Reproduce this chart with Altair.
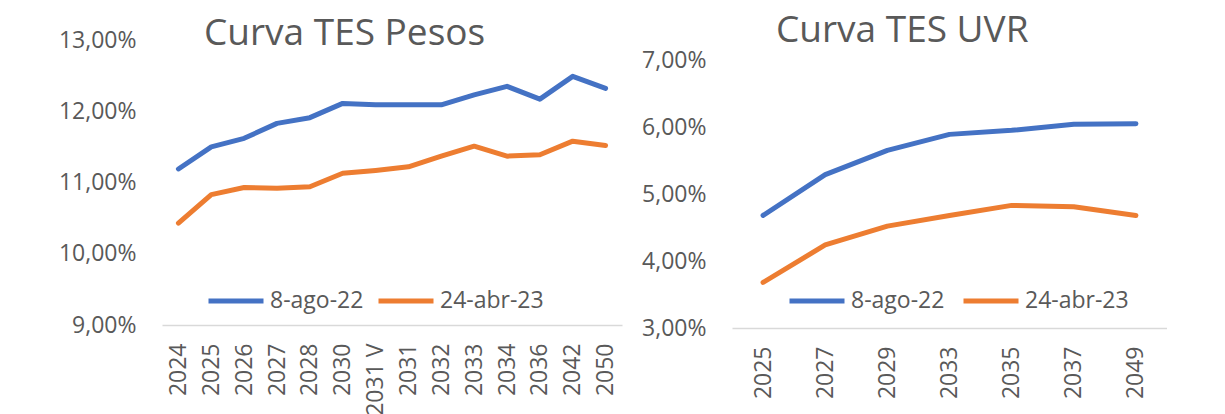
import altair as alt
import pandas as pd

# ---- data ----
series = ["8-ago-22", "24-abr-23"]
colors = ["#4472C4", "#ED7D31"]

pesos_cats = ["2024", "2025", "2026", "2027", "2028", "2030", "2031 V",
              "2031", "2032", "2033", "2034", "2036", "2042", "2050"]
pesos_ago22 = [11.19, 11.50, 11.62, 11.83, 11.91, 12.11, 12.09,
               12.09, 12.09, 12.23, 12.35, 12.17, 12.49, 12.32]
pesos_abr23 = [10.43, 10.83, 10.93, 10.92, 10.94, 11.13, 11.17,
               11.22, 11.37, 11.51, 11.37, 11.39, 11.58, 11.52]
pesos_ticks = [9, 10, 11, 12, 13]

uvr_cats = ["2025", "2027", "2029", "2033", "2035", "2037", "2049"]
uvr_ago22 = [4.68, 5.29, 5.65, 5.89, 5.95, 6.04, 6.05]
uvr_abr23 = [3.68, 4.24, 4.52, 4.68, 4.83, 4.81, 4.68]
uvr_ticks = [3, 4, 5, 6, 7]

FONT = "Open Sans"
GREY = "#595959"


def panel(cats, a, b, title, ymin, ytop, ticks, width, height,
          tx, ty, lx, ly, colpad):
    df = pd.DataFrame({
        "Vencimiento": cats * 2,
        "Serie": [series[0]] * len(cats) + [series[1]] * len(cats),
        "Tasa": a + b,
    })
    x = alt.X("Vencimiento:N", sort=cats,
              scale=alt.Scale(type="point", padding=0.5),
              axis=alt.Axis(title=None, labelAngle=-90, ticks=False,
                            grid=False, domainColor="#d9d9d9",
                            domainWidth=1.5, labelPadding=18,
                            labelFontSize=23, labelFont=FONT,
                            labelColor=GREY, labelOverlap=False))
    y = alt.Y("Tasa:Q",
              scale=alt.Scale(domain=[ymin, ytop], nice=False, zero=False),
              axis=alt.Axis(title=None, values=ticks, grid=False,
                            domain=False, ticks=False, labelPadding=26,
                            labelFontSize=23, labelFont=FONT,
                            labelColor=GREY,
                            labelExpr="replace(format(datum.value, '.2f'), '.', ',') + '%'"))
    color = alt.Color("Serie:N",
                      scale=alt.Scale(domain=series, range=colors),
                      legend=alt.Legend(orient="none", legendX=lx, legendY=ly,
                                        direction="horizontal", title=None,
                                        symbolType="stroke", symbolSize=3025,
                                        symbolStrokeWidth=5, labelFontSize=23,
                                        labelFont=FONT, labelColor=GREY,
                                        labelOffset=4, columnPadding=colpad,
                                        padding=0))
    lines = alt.Chart(df).mark_line(
        strokeWidth=5, strokeCap="round", strokeJoin="round"
    ).encode(x=x, y=y, color=color)
    ttl = alt.Chart(pd.DataFrame({"t": [title]})).mark_text(
        align="left", baseline="alphabetic", fontSize=37, font=FONT,
        color=GREY
    ).encode(x=alt.value(tx), y=alt.value(ty), text="t:N")
    return alt.layer(lines, ttl).properties(width=width, height=height)


left = panel(pesos_cats, pesos_ago22, pesos_abr23, "Curva TES Pesos",
             9, 13 + 28 / 71.25, pesos_ticks, 460, 313,
             42, 33, 44, 259, 4)
right = panel(uvr_cats, uvr_ago22, uvr_abr23, "Curva TES UVR",
              3, 7 + 48 / 67.0, uvr_ticks, 435, 316,
              44, 30, 55, 259, 8)

chart = alt.hconcat(left, right, spacing=19).resolve_scale(
    color="independent"
).resolve_legend(color="independent").properties(
    padding={"left": 50, "top": 4, "right": 0, "bottom": 0},
    background="white"
).configure_view(stroke=None)

chart.save("out.html", embed_options={"renderer": "svg", "actions": False})
